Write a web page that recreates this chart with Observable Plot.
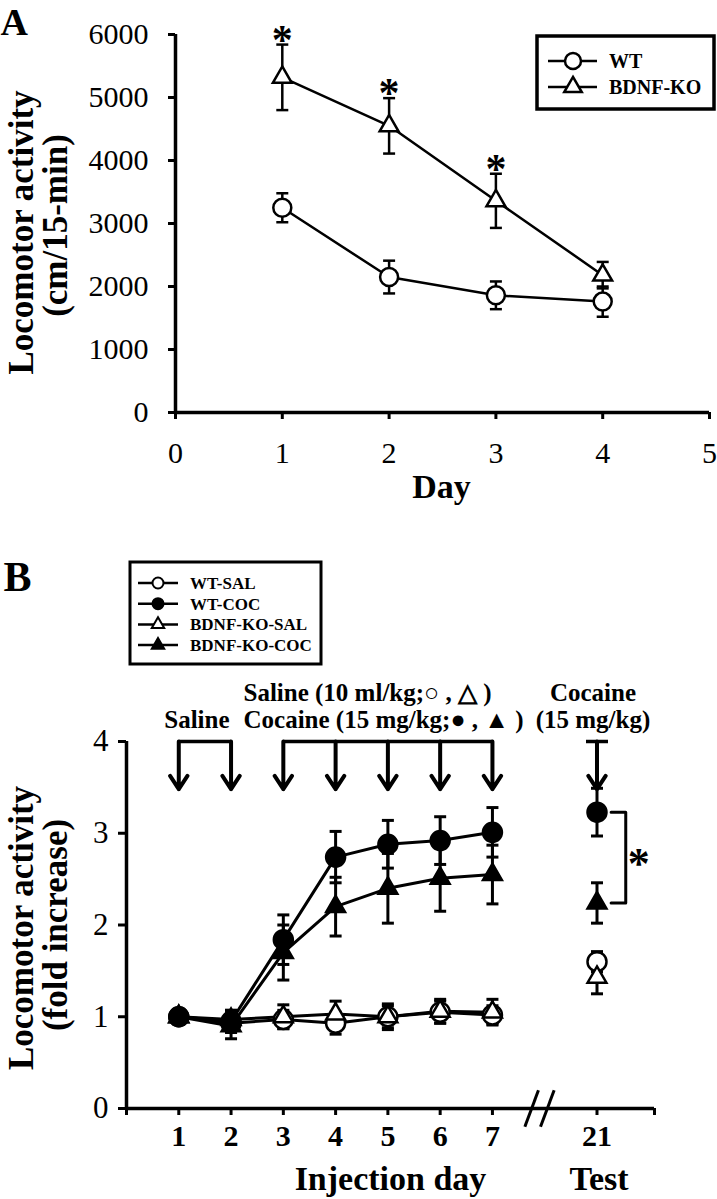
<!DOCTYPE html>
<html><head><meta charset="utf-8">
<script src="https://cdn.jsdelivr.net/npm/d3@7"></script>
<script src="https://cdn.jsdelivr.net/npm/@observablehq/plot@0.6"></script>
<style>
body{margin:0;background:#fff;}
#wrap{position:relative;width:717px;height:1199px;overflow:hidden;background:#fff;}
</style></head><body><div id="wrap"></div>
<script>
// ---------- Panel A data ----------
const daysA = [1, 2, 3, 4];
const wtA = [3250, 2150, 1860, 1760];
const wtAErr = [230, 260, 220, 240];
const koA = [5320, 4550, 3360, 2180];
const koAErr = [520, 440, 430, 210];
const sigDaysA = [1, 2, 3];
const xTicksA = [0, 1, 2, 3, 4, 5];
const yTicksA = [0, 1000, 2000, 3000, 4000, 5000, 6000];
const legendA = ["WT", "BDNF-KO"];

// ---------- Panel B data ----------
const dayLabelsB = ["1", "2", "3", "4", "5", "6", "7", "21"];
const dayPosB = [1, 2, 3, 4, 5, 6, 7, 9];
const wtSal    = [1.00, 0.93, 0.97, 0.93, 1.00, 1.05, 1.02, 1.60];
const wtSalErr = [0.04, 0.10, 0.10, 0.12, 0.12, 0.12, 0.10, 0.11];
const wtCoc    = [1.00, 0.95, 1.84, 2.74, 2.88, 2.92, 3.01, 3.23];
const wtCocErr = [0.04, 0.12, 0.27, 0.28, 0.26, 0.26, 0.27, 0.26];
const koSal    = [1.00, 0.97, 1.00, 1.03, 1.00, 1.06, 1.05, 1.43];
const koSalErr = [0.04, 0.10, 0.13, 0.14, 0.14, 0.13, 0.14, 0.18];
const koCoc    = [1.00, 0.90, 1.70, 2.20, 2.40, 2.51, 2.55, 2.24];
const koCocErr = [0.04, 0.14, 0.30, 0.32, 0.38, 0.36, 0.32, 0.22];
const yTicksB = [0, 1, 2, 3, 4];
const salineDays = [1, 2];
const cocaineDays = [3, 4, 5, 6, 7];
const testDays = [9];
const breakPos = [7.75, 8.05];
const legendB = ["WT-SAL", "WT-COC", "BDNF-KO-SAL", "BDNF-KO-COC"];

const FONT = '"Liberation Serif", "Times New Roman", serif';
const W = 717;
const wrap = document.getElementById("wrap");

const cap = {draw(ctx, size) { const w = Math.sqrt(size / Math.PI); ctx.moveTo(-w, 0); ctx.lineTo(w, 0); }};

// ---------- Panel A ----------
const rowsA = [];
daysA.forEach((d, i) => {
  rowsA.push({g: "WT", x: d, y: wtA[i], e: wtAErr[i]});
  rowsA.push({g: "BDNF-KO", x: d, y: koA[i], e: koAErr[i]});
});

const plotA = Plot.plot({
  width: W, height: 520,
  marginLeft: 175, marginRight: 8, marginTop: 34, marginBottom: 108,
  x: {domain: [0, 5]},
  y: {domain: [0, 6000]},
  style: {fontFamily: FONT, overflow: "visible", background: "transparent", color: "black"},
  marks: [
    Plot.axisY({ticks: yTicksA, tickFormat: "d", tickSize: 7, tickPadding: 20, fontSize: 30, strokeWidth: 3, label: null}),
    Plot.axisX({ticks: xTicksA, tickFormat: "d", tickSize: 7, tickPadding: 22, fontSize: 30, strokeWidth: 3, label: null}),
    Plot.ruleX([0], {strokeWidth: 3.5}),
    Plot.ruleY([0], {strokeWidth: 3.5}),
    Plot.line(rowsA, {x: "x", y: "y", z: "g", strokeWidth: 2.5}),
    Plot.ruleX(rowsA, {x: "x", y1: d => d.y - d.e, y2: d => d.y + d.e, strokeWidth: 2.5}),
    Plot.dot(rowsA, {x: "x", y: d => d.y + d.e, symbol: cap, r: 6, fill: "none", stroke: "black", strokeWidth: 2.5}),
    Plot.dot(rowsA, {x: "x", y: d => d.y - d.e, symbol: cap, r: 6, fill: "none", stroke: "black", strokeWidth: 2.5}),
    Plot.dot(rowsA.filter(d => d.g === "WT"), {x: "x", y: "y", r: 9, fill: "white", stroke: "black", strokeWidth: 2.5}),
    Plot.dot(rowsA.filter(d => d.g !== "WT"), {x: "x", y: "y", symbol: "triangle", r: 7, fill: "white", stroke: "black", strokeWidth: 2.5}),
    Plot.text(sigDaysA, {x: d => d, y: d => koA[d - 1] + koAErr[d - 1], text: () => "*", lineAnchor: "bottom", dy: 9, fontSize: 42, fontWeight: "bold"}),
    Plot.text(["A"], {text: d => d, frameAnchor: "top-left", dx: -175, dy: 0, textAnchor: "start", lineAnchor: "bottom", fontSize: 38, fontWeight: "bold"}),
    Plot.text(["Locomotor activity"], {text: d => d, frameAnchor: "left", rotate: -90, dx: 32 - 175, dy: 9, lineAnchor: "bottom", textAnchor: "middle", fontSize: 35, fontWeight: "bold"}),
    Plot.text(["(cm/15-min)"], {text: d => d, frameAnchor: "left", rotate: -90, dx: 66 - 175, dy: 2, lineAnchor: "bottom", textAnchor: "middle", fontSize: 35, fontWeight: "bold"}),
    Plot.text(["Day"], {text: d => d, frameAnchor: "bottom", dx: -1, dy: 85, lineAnchor: "bottom", textAnchor: "middle", fontSize: 34, fontWeight: "bold"})
  ]
});
plotA.style.position = "absolute"; plotA.style.left = "0px"; plotA.style.top = "0px";
wrap.appendChild(plotA);

// ---------- Panel B ----------
const seriesB = [
  {name: "WT-SAL", v: wtSal, e: wtSalErr, shape: "circle", fill: "white"},
  {name: "BDNF-KO-SAL", v: koSal, e: koSalErr, shape: "triangle", fill: "white"},
  {name: "BDNF-KO-COC", v: koCoc, e: koCocErr, shape: "triangle", fill: "black"},
  {name: "WT-COC", v: wtCoc, e: wtCocErr, shape: "circle", fill: "black"}
];
const rowsB = seriesB.flatMap(s => dayPosB.map((x, i) => ({g: s.name, x, y: s.v[i], e: s.e[i], shape: s.shape, fill: s.fill, test: i === dayPosB.length - 1})));
const labelOf = p => { const i = dayPosB.indexOf(p); return i < 0 ? "" : dayLabelsB[i]; };
const xMaxB = 10.1;
const lastB = dayPosB.length - 1;

const plotB = Plot.plot({
  width: W, height: 679,
  marginLeft: 126, marginRight: 63, marginTop: 221, marginBottom: 91,
  x: {domain: [0, xMaxB]},
  y: {domain: [0, 4]},
  style: {fontFamily: FONT, overflow: "visible", background: "transparent", color: "black"},
  marks: [
    Plot.axisY({ticks: yTicksB, tickFormat: "d", tickSize: 8, tickPadding: 10, fontSize: 31, strokeWidth: 3, label: null}),
    Plot.axisX({ticks: [0, ...dayPosB, xMaxB], tickFormat: labelOf, tickSize: 7, tickPadding: 9, fontSize: 30, fontWeight: "bold", strokeWidth: 3, label: null}),
    Plot.ruleX([0], {strokeWidth: 3.5}),
    Plot.ruleY([0], {strokeWidth: 3.5}),
    Plot.link(breakPos, {x1: d => d - 0.13, x2: d => d + 0.13, y1: -0.2, y2: 0.2, strokeWidth: 3}),
    // injection schedule brackets and arrows
    Plot.link([salineDays, cocaineDays], {x1: d => d[0], x2: d => d[d.length - 1], y1: 4, y2: 4, strokeWidth: 3.5}),
    Plot.dot(testDays, {x: d => d, y: 4, symbol: cap, r: 11, fill: "none", stroke: "black", strokeWidth: 3.5}),
    Plot.arrow([...salineDays, ...cocaineDays, ...testDays], {x1: d => d, x2: d => d, y1: 4, y2: 3.48, strokeWidth: 4, headLength: 15, headAngle: 66}),
    // data
    Plot.line(rowsB.filter(d => !d.test), {x: "x", y: "y", z: "g", strokeWidth: 3}),
    Plot.ruleX(rowsB, {x: "x", y1: d => d.y - d.e, y2: d => d.y + d.e, strokeWidth: 3}),
    Plot.dot(rowsB, {x: "x", y: d => d.y + d.e, symbol: cap, r: 6, fill: "none", stroke: "black", strokeWidth: 3}),
    Plot.dot(rowsB, {x: "x", y: d => d.y - d.e, symbol: cap, r: 6, fill: "none", stroke: "black", strokeWidth: 3}),
    ...seriesB.map(s => Plot.dot(rowsB.filter(d => d.g === s.name), {x: "x", y: "y", symbol: s.shape, r: s.shape === "circle" ? 9.5 : 7, fill: s.fill, stroke: "black", strokeWidth: 2.5})),
    // significance bracket on test day
    Plot.line([{x: 9.27, y: wtCoc[lastB]}, {x: 9.55, y: wtCoc[lastB]}, {x: 9.55, y: koCoc[lastB]}, {x: 9.27, y: koCoc[lastB]}], {x: "x", y: "y", strokeWidth: 3}),
    Plot.text(["*"], {text: d => d, x: 9.8, y: (wtCoc[lastB] + koCoc[lastB]) / 2, dy: 6, fontSize: 44, fontWeight: "bold"}),
    // texts
    Plot.text(["B"], {text: d => d, frameAnchor: "top-left", dx: -123, dy: -151, textAnchor: "start", lineAnchor: "bottom", fontSize: 42, fontWeight: "bold"}),
    Plot.text(["Saline (10 ml/kg;\u25CB , \u25B3 )"], {text: d => d, frameAnchor: "top-left", dx: 117, dy: -41, textAnchor: "start", lineAnchor: "bottom", fontSize: 25, fontWeight: "bold"}),
    Plot.text(["Cocaine (15 mg/kg;\u25CF , \u25B2 )"], {text: d => d, frameAnchor: "top-left", dx: 117, dy: -14, textAnchor: "start", lineAnchor: "bottom", fontSize: 25, fontWeight: "bold"}),
    Plot.text(["Saline"], {text: d => d, x: 1.5, frameAnchor: "top", dx: -8, dy: -14, lineAnchor: "bottom", textAnchor: "middle", fontSize: 25, fontWeight: "bold"}),
    Plot.text(["Cocaine"], {text: d => d, x: 9, frameAnchor: "top", dx: -4, dy: -41, lineAnchor: "bottom", textAnchor: "middle", fontSize: 25, fontWeight: "bold"}),
    Plot.text(["(15 mg/kg)"], {text: d => d, x: 9, frameAnchor: "top", dx: -4, dy: -14, lineAnchor: "bottom", textAnchor: "middle", fontSize: 25, fontWeight: "bold"}),
    Plot.text(["Locomotor activity"], {text: d => d, frameAnchor: "left", rotate: -90, dx: 32 - 126, dy: 3, lineAnchor: "bottom", textAnchor: "middle", fontSize: 35, fontWeight: "bold"}),
    Plot.text(["(fold increase)"], {text: d => d, frameAnchor: "left", rotate: -90, dx: 66 - 126, dy: 0, lineAnchor: "bottom", textAnchor: "middle", fontSize: 35, fontWeight: "bold"}),
    Plot.text(["Injection day"], {text: d => d, frameAnchor: "bottom-left", dx: 264, dy: 81, lineAnchor: "bottom", textAnchor: "middle", fontSize: 34, fontWeight: "bold"}),
    Plot.text(["Test"], {text: d => d, x: 9, frameAnchor: "bottom", dx: 2, dy: 81, lineAnchor: "bottom", textAnchor: "middle", fontSize: 34, fontWeight: "bold"})
  ]
});
plotB.style.position = "absolute"; plotB.style.left = "0px"; plotB.style.top = "520px";
wrap.appendChild(plotB);

// ---------- Legends (overlay) ----------
const ov = d3.create("svg").attr("width", W).attr("height", 1199)
  .style("position", "absolute").style("left", "0px").style("top", "0px")
  .style("pointer-events", "none").style("font-family", FONT);
const tri = r => d3.symbol(d3.symbolTriangle, Math.PI * r * r)();

// Legend A
ov.append("rect").attr("x", 537).attr("y", 36).attr("width", 177).attr("height", 73)
  .attr("fill", "white").attr("stroke", "black").attr("stroke-width", 3.5);
legendA.forEach((name, i) => {
  const y = 61 + i * 26;
  ov.append("line").attr("x1", 548).attr("x2", 597).attr("y1", y).attr("y2", y).attr("stroke", "black").attr("stroke-width", 2.5);
  if (i === 0) ov.append("circle").attr("cx", 573).attr("cy", y).attr("r", 8).attr("fill", "white").attr("stroke", "black").attr("stroke-width", 2.5);
  else ov.append("path").attr("d", tri(6.5)).attr("transform", `translate(573,${y})`).attr("fill", "white").attr("stroke", "black").attr("stroke-width", 2.5);
  ov.append("text").attr("x", 609).attr("y", y + 7).attr("font-size", 20).attr("font-weight", "bold").text(name);
});

// Legend B
ov.append("rect").attr("x", 130).attr("y", 562).attr("width", 191).attr("height", 102)
  .attr("fill", "white").attr("stroke", "black").attr("stroke-width", 3);
legendB.forEach((name, i) => {
  const y = 583 + i * 20.7;
  const filled = name.endsWith("COC");
  const isTri = name.startsWith("BDNF");
  ov.append("line").attr("x1", 138).attr("x2", 178).attr("y1", y).attr("y2", y).attr("stroke", "black").attr("stroke-width", 2.5);
  if (!isTri) ov.append("circle").attr("cx", 158).attr("cy", y).attr("r", 5.5).attr("fill", filled ? "black" : "white").attr("stroke", "black").attr("stroke-width", 2);
  else ov.append("path").attr("d", tri(4.6)).attr("transform", `translate(158,${y})`).attr("fill", filled ? "black" : "white").attr("stroke", "black").attr("stroke-width", 2);
  ov.append("text").attr("x", 190).attr("y", y + 6).attr("font-size", 17).attr("font-weight", "bold").text(name);
});
wrap.appendChild(ov.node());
</script></body></html>
